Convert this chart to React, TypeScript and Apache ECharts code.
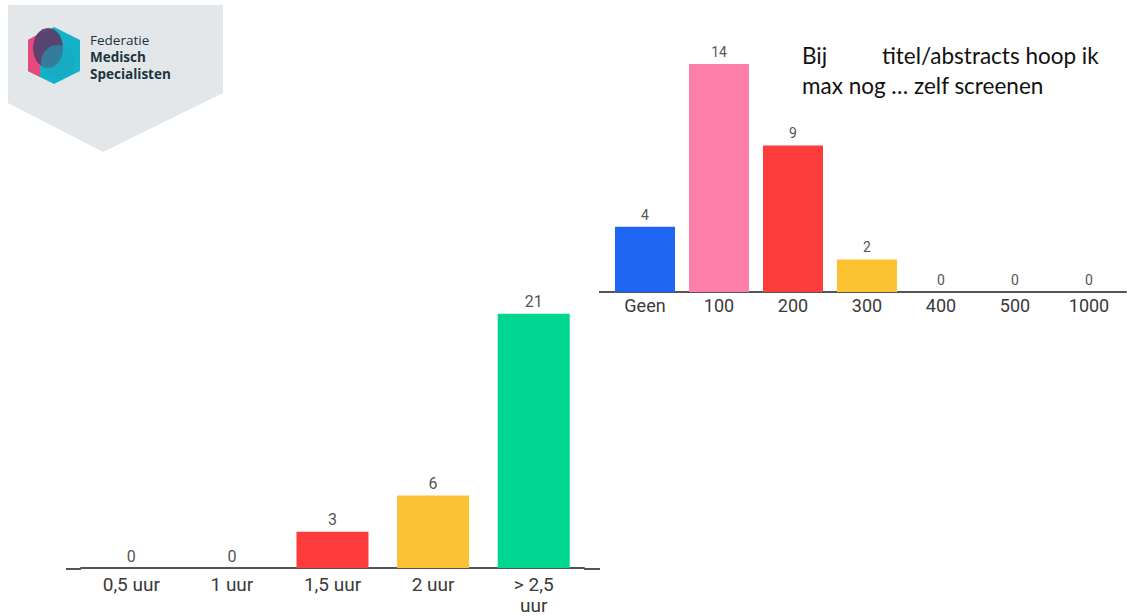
import React, { useEffect, useRef } from "react";
import * as echarts from "echarts";

const hoursCategories = ["0,5 uur", "1 uur", "1,5 uur", "2 uur", "> 2,5 uur"];
const hoursValues = [0, 0, 3, 6, 21];
const hoursColors = ["#1a66ff", "#ff7eaa", "#ff3c3c", "#fdc135", "#00d68f"];

const countCategories = ["Geen", "100", "200", "300", "400", "500", "1000"];
const countValues = [4, 14, 9, 2, 0, 0, 0];
const countColors = ["#1f66f5", "#ff7fab", "#fd3c3c", "#fdc231", "#1f66f5", "#1f66f5", "#1f66f5"];

const noteLine1a = "Bij";
const noteLine1b = "titel/abstracts hoop ik";
const noteLine2 = "max nog … zelf screenen";

const logoLines = ["Federatie", "Medisch", "Specialisten"];

export default function App() {
  const ref = useRef<HTMLDivElement>(null);
  useEffect(() => {
    if (!ref.current) return;
    const chart = echarts.init(ref.current, null, { renderer: "svg" });
    const font = "Roboto, 'Noto Sans', sans-serif";
    const axisLine = { show: true, lineStyle: { color: "#555", width: 2 } };
    chart.setOption({
      animation: false,
      backgroundColor: "#ffffff",
      grid: [
        { left: 81, width: 503, top: 265.4, height: 303.6 },
        { left: 608, width: 518, top: 31.4, height: 260.6 },
      ],
      xAxis: [
        {
          gridIndex: 0,
          type: "category",
          data: hoursCategories,
          axisLine,
          axisTick: { show: false },
          axisLabel: {
            color: "#3a3a3a",
            fontSize: 19,
            fontFamily: font,
            margin: 6,
            lineHeight: 21,
            formatter: (v: string) => v.replace("> 2,5 ", "> 2,5\n"),
          },
        },
        {
          gridIndex: 1,
          type: "category",
          data: countCategories,
          axisLine,
          axisTick: { show: false },
          axisLabel: { color: "#3a3a3a", fontSize: 18, fontFamily: font, margin: 4 },
        },
      ],
      yAxis: [
        { gridIndex: 0, type: "value", min: 0, max: 25, show: false, splitLine: { show: false } },
        { gridIndex: 1, type: "value", min: 0, max: 16, show: false, splitLine: { show: false } },
      ],
      series: [
        {
          type: "bar",
          xAxisIndex: 0,
          yAxisIndex: 0,
          barWidth: 72,
          data: hoursValues.map((v, i) => ({ value: v, itemStyle: { color: hoursColors[i] } })),
          label: { show: true, position: "top", color: "#555", fontSize: 16, fontFamily: font, distance: 4 },
        },
        {
          type: "bar",
          xAxisIndex: 1,
          yAxisIndex: 1,
          barWidth: 60,
          data: countValues.map((v, i) => ({ value: v, itemStyle: { color: countColors[i] } })),
          label: { show: true, position: "top", color: "#555", fontSize: 14, fontFamily: font, distance: 5 },
        },
      ],
      graphic: [
        {
          type: "polygon",
          shape: { points: [[8, 5], [223, 5], [223, 93], [103, 152], [8, 103]] },
          style: { fill: "#e3e7ea" },
          silent: true,
        },
        {
          type: "polygon",
          shape: { points: [[54, 27], [80, 40], [80, 71], [54, 84], [28, 71], [28, 40]] },
          style: { fill: "#14b2c9" },
        },
        {
          type: "polygon",
          shape: { points: [[40, 33], [28, 40], [28, 71], [40, 77]] },
          style: { fill: "#e64a7b" },
        },
        {
          type: "ellipse",
          shape: { cx: 48, cy: 48, rx: 15, ry: 20 },
          style: { fill: "#5b3f6d", opacity: 0.95 },
        },
        {
          type: "circle",
          shape: { cx: 58, cy: 62, r: 17 },
          style: { fill: "#1aa7bd", opacity: 0.55 },
        },
        {
          type: "text",
          x: 90,
          y: 40,
          style: { text: logoLines[0], font: "13.5px 'Open Sans', sans-serif", fill: "#1d3440", verticalAlign: "middle" },
        },
        {
          type: "text",
          x: 90,
          y: 57,
          style: { text: logoLines[1], font: "bold 13.5px 'Open Sans', sans-serif", fill: "#1d3440", verticalAlign: "middle" },
        },
        {
          type: "text",
          x: 90,
          y: 74,
          style: { text: logoLines[2], font: "bold 13.5px 'Open Sans', sans-serif", fill: "#1d3440", verticalAlign: "middle" },
        },
        {
          type: "line",
          shape: { x1: 66, y1: 569, x2: 81, y2: 569 },
          style: { stroke: "#555", lineWidth: 2 },
        },
        {
          type: "line",
          shape: { x1: 584, y1: 569, x2: 600, y2: 569 },
          style: { stroke: "#555", lineWidth: 2 },
        },
        {
          type: "line",
          shape: { x1: 599, y1: 292, x2: 608, y2: 292 },
          style: { stroke: "#555", lineWidth: 2 },
        },
        {
          type: "text",
          x: 802,
          y: 44,
          style: { text: noteLine1a, font: "22.5px Lato, 'Open Sans', sans-serif", fill: "#111" },
        },
        {
          type: "text",
          x: 882,
          y: 44,
          style: { text: noteLine1b, font: "22.5px Lato, 'Open Sans', sans-serif", fill: "#111" },
        },
        {
          type: "text",
          x: 802,
          y: 74,
          style: { text: noteLine2, font: "22.5px Lato, 'Open Sans', sans-serif", fill: "#111" },
        },
      ],
    });
    return () => chart.dispose();
  }, []);
  return (
    <div
      ref={ref}
      style={{ position: "absolute", left: 0, top: 0, width: 1128, height: 616 }}
    />
  );
}
